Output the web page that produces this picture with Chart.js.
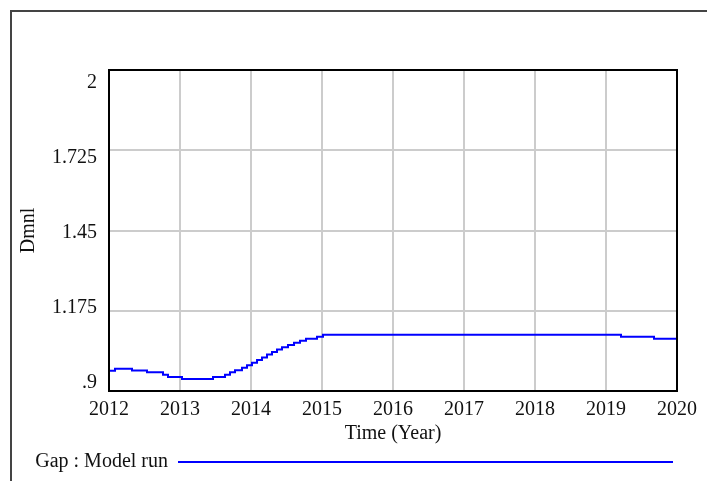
<!DOCTYPE html>
<html lang="en">
<head>
    <meta charset="UTF-8">
    <title>Gap : Model run</title>
    <style>
        body {
            margin: 0;
            padding: 0;
            background: #fff;
        }
        .chart-box {
            position: relative;
            width: 707px;
            height: 481px;
        }
    </style>
</head>
<body>

<div class="chart-box">
    <canvas id="gapChart"></canvas>
</div>

<script src="https://cdn.jsdelivr.net/npm/chart.js"></script>
<script>
    // values
    const years = [2012.000, 2012.085, 2012.324, 2012.535, 2012.761, 2012.831, 2013.028, 2013.465,
        2013.634, 2013.704, 2013.775, 2013.873, 2013.944, 2014.014, 2014.085, 2014.155, 2014.225,
        2014.296, 2014.366, 2014.437, 2014.521, 2014.606, 2014.690, 2014.775, 2014.930, 2015.014,
        2019.211, 2019.676, 2020.000];
    const gap = [0.969, 0.976, 0.970, 0.964, 0.956, 0.948, 0.941, 0.948,
        0.956, 0.964, 0.971, 0.980, 0.988, 0.997, 1.006, 1.015, 1.025,
        1.034, 1.042, 1.050, 1.058, 1.065, 1.072, 1.079, 1.086, 1.093,
        1.086, 1.079, 1.079];

    const xTicks = [2012, 2013, 2014, 2015, 2016, 2017, 2018, 2019, 2020];
    const yTicks = [0.9, 1.175, 1.45, 1.725, 2];
    const yTickLabels = ['.9', '1.175', '1.45', '1.725', '2'];

    const serif = 'Liberation Serif, Times New Roman, serif';

    // outer frame (left + top) and black box round the plot
    const framePlugin = {
        id: 'frame',
        afterDraw(chart) {
            const ctx = chart.ctx;
            const a = chart.chartArea;
            ctx.save();
            ctx.strokeStyle = '#444';
            ctx.lineWidth = 2;
            ctx.beginPath();
            ctx.moveTo(11, chart.height);
            ctx.lineTo(11, 11);
            ctx.lineTo(chart.width, 11);
            ctx.stroke();
            ctx.strokeStyle = '#000';
            ctx.lineWidth = 2;
            ctx.strokeRect(a.left, a.top, a.right - a.left, a.bottom - a.top);
            ctx.restore();
        }
    };

    const ctx = document.getElementById('gapChart').getContext('2d');
    const chart = new Chart(ctx, {
        type: 'line',
        data: {
            datasets: [{
                label: 'Gap : Model run',
                data: years.map((t, i) => ({ x: t, y: gap[i] })),
                borderColor: '#0000ff',
                backgroundColor: '#0000ff',
                borderWidth: 2,
                pointRadius: 0,
                stepped: true,
                yAxisID: 'y'
            }]
        },
        options: {
            responsive: true,
            maintainAspectRatio: false,
            animation: false,
            layout: {
                padding: { left: 0, top: 70, right: 30, bottom: 0 }
            },
            plugins: {
                tooltip: { enabled: false },
                legend: {
                    position: 'bottom',
                    align: 'start',
                    rtl: true,
                    textDirection: 'ltr',
                    maxHeight: 33,
                    labels: {
                        usePointStyle: true,
                        pointStyle: 'line',
                        pointStyleWidth: 495,
                        boxHeight: 2,
                        padding: 4,
                        color: '#111',
                        font: { family: serif, size: 20 }
                    }
                }
            },
            scales: {
                x: {
                    type: 'linear',
                    min: 2012,
                    max: 2020,
                    afterBuildTicks: s => { s.ticks = xTicks.map(v => ({ value: v })); },
                    afterFit: s => { s.height = 57; },
                    border: { display: false },
                    grid: { color: '#cccccc', lineWidth: 2, drawTicks: false },
                    ticks: {
                        padding: 7,
                        color: '#111',
                        font: { family: serif, size: 20 },
                        maxRotation: 0,
                        callback: (v, i) => String(xTicks[i])
                    },
                    title: {
                        display: true,
                        text: 'Time (Year)',
                        color: '#111',
                        padding: { top: 0, bottom: 2 },
                        font: { family: serif, size: 20 }
                    }
                },
                y: {
                    position: 'left',
                    min: 0.9,
                    max: 2,
                    afterBuildTicks: s => { s.ticks = yTicks.map(v => ({ value: v })); },
                    afterFit: s => { s.width = 0; },
                    border: { display: false },
                    grid: { color: '#cccccc', lineWidth: 2, drawTicks: false },
                    ticks: { display: false }
                },
                // labels sit a little inside the axis range, like the Vensim output
                yl: {
                    position: 'left',
                    min: 0.868,
                    max: 2.0486,
                    afterBuildTicks: s => { s.ticks = yTicks.map(v => ({ value: v })); },
                    afterFit: s => { s.width = 109; },
                    border: { display: false },
                    grid: { display: false, drawTicks: false },
                    ticks: {
                        padding: 12,
                        color: '#111',
                        font: { family: serif, size: 20 },
                        callback: (v, i) => yTickLabels[i]
                    },
                    title: {
                        display: true,
                        text: 'Dmnl',
                        color: '#111',
                        padding: { top: 17, bottom: 0 },
                        font: { family: serif, size: 20 }
                    }
                }
            }
        },
        plugins: [framePlugin]
    });
</script>

</body>
</html>
